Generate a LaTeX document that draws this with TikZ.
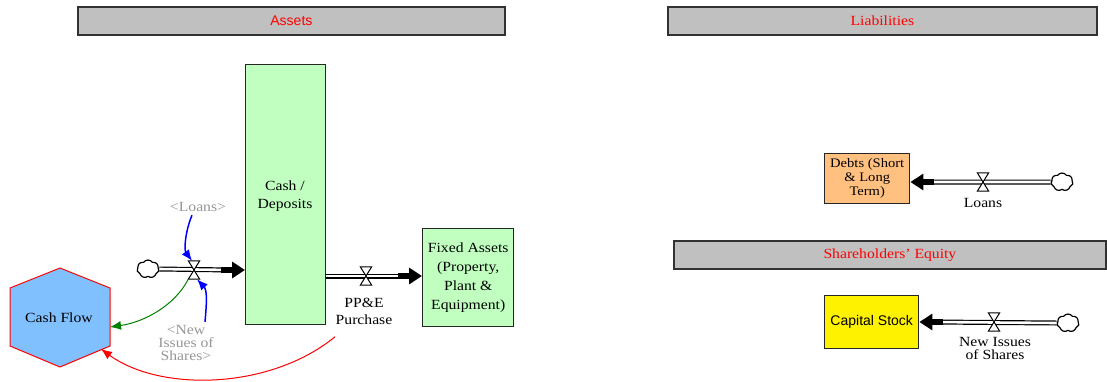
\documentclass[tikz,border=0pt]{standalone}
\usepackage{fontspec}
\setmainfont{Liberation Serif}[FakeStretch=1.12]
\newfontfamily\sansf{Liberation Sans}
\usetikzlibrary{arrows.meta,shapes.symbols,calc}
\definecolor{hdrgray}{RGB}{192,192,192}
\definecolor{hdrline}{RGB}{50,50,50}
\definecolor{stockgreen}{RGB}{192,255,192}
\definecolor{debtorange}{RGB}{255,192,128}
\definecolor{cfblue}{RGB}{128,192,255}
\definecolor{refgray}{RGB}{150,150,150}
\definecolor{arrblue}{RGB}{0,0,255}
\definecolor{arrgreen}{RGB}{0,128,0}
\begin{document}
\begin{tikzpicture}[x=1pt,y=-1pt,
 every node/.style={font=\fontsize{14}{17}\selectfont},
 header/.style={draw=hdrline, line width=1.8pt, fill=hdrgray, text=red, inner sep=0pt, anchor=north west, minimum height=28pt},
 stock/.style={draw=black!85, line width=1.4pt, inner sep=0pt, anchor=north west, align=center},
 pipe/.style={draw=black, double=white, line width=1.2pt, double distance=2.6pt},
 flowtip/.style={line width=6pt, -{Triangle[length=13pt,width=16pt]}},
 valve/.style={inner sep=0pt, minimum width=11pt, minimum height=18pt},
 valveshape/.style={draw=black, fill=white, line width=1pt},
 cloudnode/.style={cloud, cloud puffs=7, cloud puff arc=110, aspect=1.3, draw, fill=white, line width=1.2pt, minimum width=22pt, minimum height=18pt, inner sep=0pt},
 refl/.style={text=refgray, align=center},
 link/.style={-{Latex[length=11pt,width=9pt]}},
]
\useasboundingbox (0,0) rectangle (1107,381);

% headers
\node[header, minimum width=427pt] (assetsH) at (77,6) {\sansf Assets};
\node[header, minimum width=429pt] (liabH) at (667,6) {Liabilities};
\node[header, minimum width=432pt] (equityH) at (673,240) {Shareholders' Equity};

% stocks
\node[stock, fill=stockgreen, minimum width=80pt, minimum height=260pt] (cash) at (245,64) {};
\node[align=center, font=\fontsize{14}{18}\selectfont] (cashL) at (285,196) {Cash /\\Deposits};
\node[stock, fill=stockgreen, minimum width=91pt, minimum height=98pt, font=\fontsize{14}{19}\selectfont] (fixed) at (422,228) {Fixed Assets\\(Property,\\Plant \&\\Equipment)};
\node[stock, fill=debtorange, minimum width=85pt, minimum height=50pt, font=\fontsize{13}{14}\selectfont] (debts) at (824,153) {Debts (Short\\\& Long\\Term)};
\node[stock, fill=yellow, minimum width=94pt, minimum height=53pt] (capital) at (824,295) {\sansf Capital Stock};

% Cash Flow hexagon
\draw[draw=red, fill=cfblue, line width=1pt] (60,268) -- (110,288) -- (110,346) -- (60,367) -- (10,346) -- (10,288) -- cycle;
\node (cf) at (59,318) {Cash Flow};
\coordinate (cfR) at (110,327);
\coordinate (cfLR) at (101,349);

% clouds
\node[cloudnode] (cloudA) at (148,269) {};
\node[cloudnode] (cloudB) at (1062,182) {};
\node[cloudnode] (cloudC) at (1068,323) {};

% valves
\node[valve] (vIn) at (194,270) {};
\node[valve] (vPPE) at (366,276) {};
\node[valve] (vLoans) at (983,182) {};
\node[valve] (vShares) at (994,322) {};

% pipes
\draw[pipe] (cloudA.east) -- ($(cash.west |- vIn)+(-14,0)$);
\draw[flowtip] ($(cash.west |- vIn)+(-24,0)$) -- (cash.west |- vIn);
\draw[pipe] (cash.east |- vPPE) -- ($(fixed.west |- vPPE)+(-14,0)$);
\draw[flowtip] ($(fixed.west |- vPPE)+(-24,0)$) -- (fixed.west |- vPPE);
\draw[pipe] (cloudB.west) -- ($(debts.east |- vLoans)+(14,0)$);
\draw[flowtip] ($(debts.east |- vLoans)+(24,0)$) -- (debts.east |- vLoans);
\draw[pipe] (cloudC.west) -- ($(capital.east |- vShares)+(14,0)$);
\draw[flowtip] ($(capital.east |- vShares)+(24,0)$) -- (capital.east |- vShares);

\foreach \v in {vIn,vPPE,vLoans,vShares}
  \draw[valveshape] (\v.north west) -- (\v.north east) -- (\v.south west) -- (\v.south east) -- cycle;

% labels
\node[refl] (refLoans) at (198,207) {<Loans>};
\node[refl, font=\fontsize{14}{13}\selectfont] (refShares) at (186,343) {<New\\Issues of\\Shares>};
\node[align=center, font=\fontsize{14}{17}\selectfont] (lblPPE) at (364,311) {PP\&E\\Purchase};
\node (lblLoans) at (983,203) {Loans};
\node[align=center, font=\fontsize{14}{13}\selectfont] (lblShares) at (995,348) {New Issues\\of Shares};

% links
\draw[link, arrblue, line width=1.5pt] ($(refLoans.south)+(-6,0)$) .. controls (185,232) and (184,250) .. ($(vIn.north)+(-2,0)$);
\draw[link, arrblue, line width=1.5pt] ($(refShares.north)+(19,0)$) .. controls (207,300) and (207,290) .. ($(vIn.south)+(3,0)$);
\draw[link, arrgreen, line width=1pt] (vIn.south west) .. controls (175,305) and (145,322) .. (cfR);
\draw[link, red, line width=1pt] ($(lblPPE.south)+(-29,9)$) .. controls (270,390) and (160,392) .. (cfLR);
\end{tikzpicture}
\end{document}
